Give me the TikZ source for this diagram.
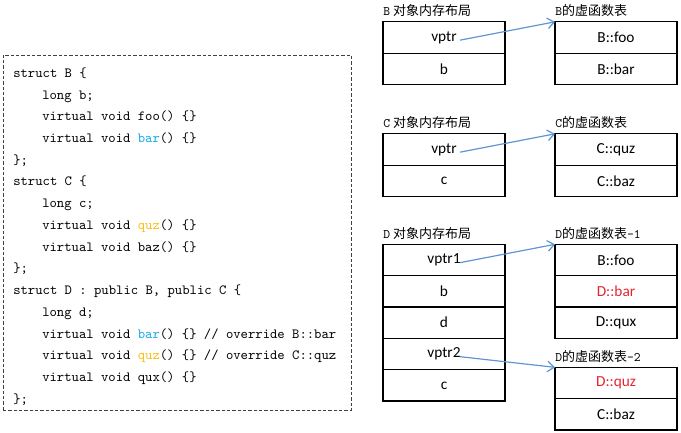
\documentclass[tikz,border=0pt]{standalone}
\usepackage{fontspec}
\setsansfont{Carlito}
\newfontfamily\cjk{Noto Sans CJK SC}
\usepackage{xcolor}
\usetikzlibrary{arrows.meta,positioning}

\definecolor{ptrblue}{RGB}{95,150,210}
\definecolor{barblue}{RGB}{20,170,230}
\definecolor{quzgold}{RGB}{250,190,20}
\definecolor{ovred}{RGB}{230,35,45}

\newcommand{\codeind}{\hspace*{21.75pt}}
\newcommand{\hlb}[1]{\textcolor{barblue}{#1}}
\newcommand{\hlq}[1]{\textcolor{quzgold}{#1}}

\tikzset{
  cell/.style={draw,line width=0.8pt,outer sep=0pt,inner sep=0pt,
    minimum width=91.5pt,minimum height=23.5pt,
    font=\sffamily\fontsize{11.5}{13}\selectfont},
  lbl/.style={anchor=base west,inner sep=0pt,font=\cjk\fontsize{9.75}{11}\selectfont},
  codeline/.style={anchor=base west,inner sep=0pt,font=\ttfamily\fontsize{10.5}{12}\selectfont},
  frame/.style={draw=black!75,line width=0.7pt,dash pattern=on 2.5pt off 1.5pt,
    outer sep=0pt,inner sep=0pt,minimum width=261pt,minimum height=266.25pt},
  ptr/.style={->,ptrblue,line width=0.9pt}
}

\begin{document}
\begin{tikzpicture}[x=0.75pt,y=-0.75pt]
\useasboundingbox (0,0) rectangle (681,432);

% source code
\node[frame] (frame) at (177,232.5) {};
\foreach \t [count=\i] in {
    {struct B \{},
    {\codeind long b;},
    {\codeind virtual void foo() \{\}},
    {\codeind virtual void \hlb{bar}() \{\}},
    {\};},
    {struct C \{},
    {\codeind long c;},
    {\codeind virtual void \hlq{quz}() \{\}},
    {\codeind virtual void baz() \{\}},
    {\};},
    {struct D : public B, public C \{},
    {\codeind long d;},
    {\codeind virtual void \hlb{bar}() \{\} // override B::bar},
    {\codeind virtual void \hlq{quz}() \{\} // override C::quz},
    {\codeind virtual void qux() \{\}},
    {\};}}
  \node[codeline] (c\i) at (13,55.6+21.73*\i) {\t};

% B
\node[cell] (bo1) at (444,37.5) {vptr};
\node[cell,below=0pt of bo1] (bo2) {b};
\node[cell] (bt1) at (616,37.5) {B::foo};
\node[cell,below=0pt of bt1] (bt2) {B::bar};
\node[lbl] (bol) at ([yshift=4.5pt]bo1.north west) {{\ttfamily B} 对象内存布局};
\node[lbl] (btl) at ([yshift=4.5pt]bt1.north west) {{\ttfamily B}的虚函数表};

% C
\node[cell] (co1) at (444,149.5) {vptr};
\node[cell,below=0pt of co1] (co2) {c};
\node[cell] (ct1) at (616,149.5) {C::quz};
\node[cell,below=0pt of ct1] (ct2) {C::baz};
\node[lbl] (col) at ([yshift=4.5pt]co1.north west) {{\ttfamily C} 对象内存布局};
\node[lbl] (ctl) at ([yshift=4.5pt]ct1.north west) {{\ttfamily C}的虚函数表};

% D
\node[cell] (do1) at (444,260) {vptr1};
\node[cell,below=0pt of do1] (do2) {b};
\node[cell,below=0pt of do2] (do3) {d};
\node[cell,below=0pt of do3] (do4) {vptr2};
\node[cell,below=0pt of do4] (do5) {c};
\node[cell] (dt1) at (616,260) {B::foo};
\node[cell,below=0pt of dt1,text=ovred] (dt2) {D::bar};
\node[cell,below=0pt of dt2] (dt3) {D::qux};
\node[cell,text=ovred] (ds1) at (616,383) {D::quz};
\node[cell,below=0pt of ds1] (ds2) {C::baz};
\node[lbl] (dol) at ([yshift=4.5pt]do1.north west) {{\ttfamily D} 对象内存布局};
\node[lbl] (dtl) at ([yshift=4.5pt]dt1.north west) {{\ttfamily D}的虚函数表{\ttfamily -1}};
\node[lbl] (dsl) at ([yshift=4.5pt]ds1.north west) {{\ttfamily D}的虚函数表{\ttfamily -2}};

\begin{scope}[>={Straight Barb[length=5pt,width=8pt]}]
    \coordinate (bp) at ([xshift=12pt,yshift=-2pt]bo1.center);
    \coordinate (cp) at ([xshift=12pt,yshift=-2pt]co1.center);
    \coordinate (dp1) at ([xshift=12pt,yshift=-2pt]do1.center);
    \coordinate (dp2) at ([xshift=12pt,yshift=-2pt]do4.center);
    \draw[ptr] (bp) -- (bt1.north west);
    \draw[ptr] (cp) -- (ct1.north west);
    \draw[ptr] (dp1) -- (dt1.north west);
    \draw[ptr] (dp2) -- (ds1.north west);
\end{scope}
\end{tikzpicture}
\end{document}
